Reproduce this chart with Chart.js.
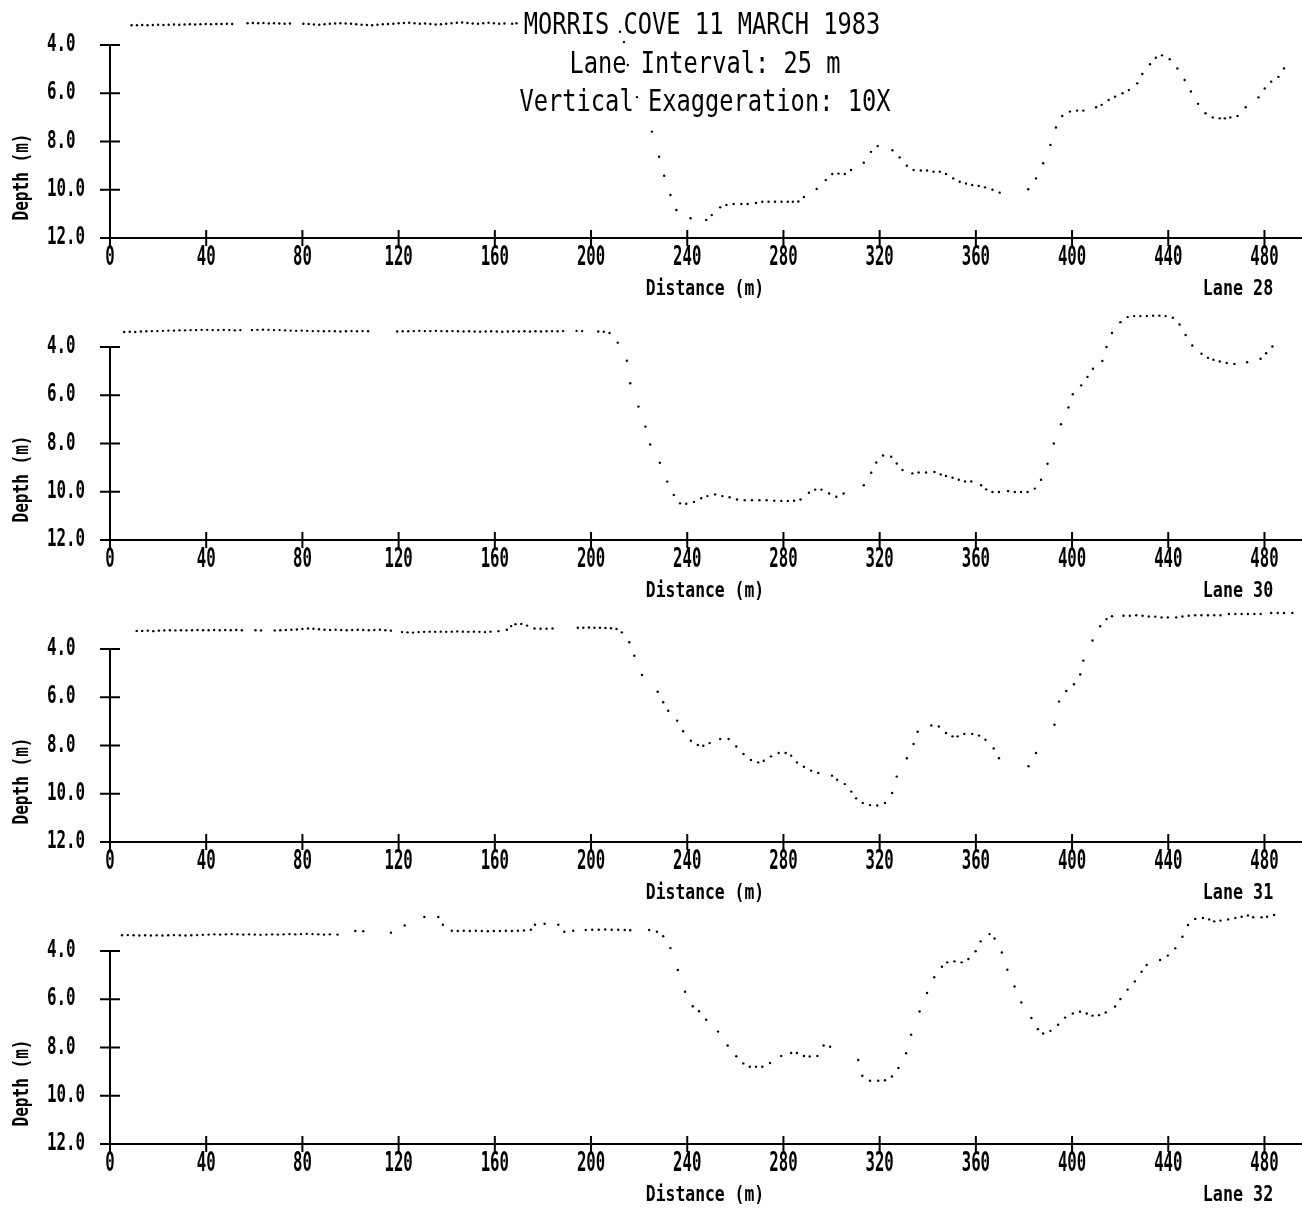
<!DOCTYPE html>
<html>
<head>
<meta charset="utf-8">
<title>Morris Cove 11 March 1983</title>
<script src="https://cdn.jsdelivr.net/npm/chart.js@4.4.1/dist/chart.umd.min.js"></script>
<style>
  html, body { margin: 0; background: #fff; }
  #page { position: relative; width: 1302px; height: 1208px; overflow: hidden; }
  #page canvas { position: absolute; left: 0; }
</style>
</head>
<body>
<div id="page"></div>
<script>
const titleLines = ['MORRIS COVE 11 MARCH 1983', 'Lane Interval: 25 m', 'Vertical Exaggeration: 10X'];
const laneNames = ['Lane 28', 'Lane 30', 'Lane 31', 'Lane 32'];
const distanceTicks = [0, 40, 80, 120, 160, 200, 240, 280, 320, 360, 400, 440, 480];
const depthTicks = [4, 6, 8, 10, 12];

const lane28Dist = [
  9.0, 11.2, 13.4, 15.6, 17.8, 20.0, 22.2, 24.4, 26.6, 28.8, 31.0, 33.2, 35.4, 37.6, 39.8, 42.0, 44.2, 46.4, 48.6, 50.8,
  57.2, 59.4, 61.6, 63.8, 66.0, 68.2, 70.4, 72.6, 74.8,
  80.4, 82.6, 84.8, 87.0, 89.2, 91.4, 93.6, 95.8, 98.0, 100.2, 102.4, 104.6, 106.8, 109.0, 111.2, 113.4, 115.6, 117.8,
  120.0, 122.2, 124.4, 126.6, 128.8, 131.0, 133.2, 135.4, 137.6, 139.8, 142.0, 144.2, 146.4, 148.6, 150.8, 153.0,
  155.2, 157.4, 159.6, 161.8, 164.0, 167.2, 169.0,
  212.0, 213.7, 215.3, 219.1, 225.3, 228.3, 230.4, 233.0, 235.5, 241.4, 247.9, 250.2, 253.7, 256.3, 259.3, 262.5,
  265.1, 268.6, 271.2, 273.8, 276.5, 279.2, 281.8, 283.9, 286.2, 288.5, 293.8, 297.6, 300.3, 302.9, 305.5, 308.1,
  313.4, 316.4, 319.2, 325.3, 328.3, 331.3, 334.1, 337.1, 339.7, 342.4, 345.0, 347.6, 350.6, 353.3, 355.9, 358.5,
  361.2, 363.8, 366.9, 369.9, 381.8, 385.0, 388.0, 391.0, 393.3, 395.9, 399.1, 402.1, 404.7, 410.0, 412.3, 415.2,
  417.9, 421.0, 423.6, 427.1, 429.2, 432.4, 434.8, 437.4, 440.6, 443.8, 446.8, 449.4, 452.4, 455.5, 458.5, 461.4,
  463.5, 465.8, 468.8, 472.2, 477.5, 480.1, 482.8, 485.8, 488.1,
];
const lane28Depth = [
  3.18, 3.18, 3.17, 3.18, 3.17, 3.16, 3.17, 3.16, 3.15, 3.16, 3.15, 3.14, 3.15, 3.14, 3.13, 3.14, 3.13, 3.13, 3.12, 3.13,
  3.10, 3.09, 3.10, 3.09, 3.11, 3.10, 3.11, 3.12, 3.11,
  3.12, 3.13, 3.15, 3.16, 3.14, 3.12, 3.11, 3.10, 3.11, 3.12, 3.14, 3.16, 3.17, 3.18, 3.16, 3.14, 3.13, 3.12,
  3.10, 3.09, 3.08, 3.10, 3.12, 3.11, 3.13, 3.15, 3.14, 3.12, 3.10, 3.08, 3.07, 3.09, 3.11, 3.12,
  3.10, 3.08, 3.10, 3.12, 3.11, 3.12, 3.10,
  3.45, 3.88, 4.83, 6.16, 7.59, 8.63, 9.42, 10.22, 10.84, 11.18, 11.25, 11.05, 10.73, 10.63, 10.59, 10.59,
  10.59, 10.55, 10.50, 10.50, 10.50, 10.50, 10.50, 10.50, 10.49, 10.30, 9.97, 9.60, 9.35, 9.33, 9.35, 9.18,
  8.88, 8.43, 8.19, 8.36, 8.66, 9.00, 9.18, 9.20, 9.20, 9.25, 9.25, 9.35, 9.53, 9.67, 9.74, 9.80,
  9.84, 9.90, 10.00, 10.12, 9.98, 9.53, 8.90, 8.14, 7.42, 6.94, 6.76, 6.72, 6.72, 6.58, 6.48, 6.28,
  6.14, 6.00, 5.87, 5.59, 5.20, 4.80, 4.53, 4.43, 4.59, 4.97, 5.45, 5.93, 6.44, 6.83, 7.00, 7.04,
  7.04, 7.00, 6.94, 6.58, 6.17, 5.80, 5.52, 5.32, 4.97,
];

const lane30Dist = [
  5.9, 8.2, 10.5, 12.8, 15.1, 17.4, 19.7, 22.0, 24.3, 26.6, 28.9, 31.2, 33.5, 35.8, 38.1, 40.4, 42.7, 45.0, 47.3, 49.6,
  51.9, 54.2, 59.0, 61.3, 63.6, 65.9, 68.2, 70.5, 72.8, 75.1, 77.4, 79.7, 82.0, 84.3, 86.6, 88.9, 91.2, 93.5, 95.8,
  98.1, 100.4, 102.7, 105.0, 107.3, 119.4, 121.7, 124.0, 126.3, 128.6, 130.9, 133.2, 135.5, 137.8, 140.1, 142.4,
  144.7, 147.0, 149.3, 151.6, 153.9, 156.2, 158.5, 160.8, 163.1, 165.4, 167.7, 170.0, 172.3, 174.6, 176.9, 179.2,
  181.5, 183.8, 186.1, 188.4, 194.0, 196.3, 203.0, 205.3, 207.7,
  211.1, 214.9, 216.3, 219.7, 222.6, 224.6, 228.6, 231.7, 234.4, 237.0, 239.6, 242.8, 245.8, 248.4, 251.6, 254.6,
  257.6, 260.7, 263.9, 266.9, 270.0, 273.0, 276.2, 279.1, 281.8, 284.4, 287.1, 290.6, 293.2, 295.8, 299.0, 302.0,
  305.0, 313.4, 316.5, 318.6, 321.4, 324.8, 327.1, 329.5, 333.6, 336.2, 339.3, 342.8, 345.4, 347.6, 350.3, 352.9,
  355.5, 358.1, 362.2, 364.3, 366.9, 369.6, 373.4, 376.2, 378.8, 381.5, 384.5, 387.1, 389.8, 392.4, 395.4, 398.5,
  400.3, 403.8, 406.4, 408.7, 412.6, 414.3, 416.6, 420.1, 423.1, 425.8, 428.4, 431.1, 433.7, 436.3, 438.9, 441.9,
  444.7, 447.2, 450.0, 453.8, 456.5, 458.8, 461.4, 464.3, 467.5, 472.8, 478.4, 480.7, 483.3,
];
const lane30Depth = [
  3.38, 3.37, 3.38, 3.36, 3.35, 3.34, 3.34, 3.33, 3.32, 3.32, 3.31, 3.31, 3.30, 3.30, 3.29, 3.29, 3.30, 3.30, 3.29, 3.30,
  3.31, 3.30, 3.30, 3.29, 3.28, 3.29, 3.30, 3.30, 3.31, 3.32, 3.33, 3.32, 3.33, 3.34, 3.34, 3.35, 3.34, 3.35, 3.36,
  3.35, 3.34, 3.35, 3.34, 3.35, 3.36, 3.35, 3.35, 3.34, 3.33, 3.34, 3.34, 3.33, 3.34, 3.35, 3.34,
  3.35, 3.36, 3.35, 3.36, 3.37, 3.36, 3.35, 3.36, 3.37, 3.36, 3.35, 3.36, 3.35, 3.36, 3.35, 3.36,
  3.35, 3.34, 3.35, 3.34, 3.33, 3.34, 3.36, 3.37, 3.42,
  3.82, 4.57, 5.50, 6.47, 7.30, 8.04, 8.80, 9.58, 10.13, 10.48, 10.50, 10.42, 10.27, 10.18, 10.11, 10.18,
  10.23, 10.32, 10.35, 10.35, 10.35, 10.35, 10.37, 10.38, 10.38, 10.37, 10.32, 10.04, 9.91, 9.91, 10.07, 10.21,
  10.07, 9.73, 9.21, 8.79, 8.50, 8.55, 8.83, 9.10, 9.24, 9.20, 9.20, 9.18, 9.28, 9.35, 9.42, 9.50,
  9.57, 9.57, 9.73, 9.90, 10.01, 10.01, 9.97, 10.01, 10.01, 10.01, 9.87, 9.50, 8.84, 8.00, 7.20, 6.51,
  5.96, 5.59, 5.24, 4.90, 4.58, 4.00, 3.42, 2.97, 2.76, 2.72, 2.72, 2.72, 2.70, 2.70, 2.72, 2.79,
  3.07, 3.50, 3.94, 4.28, 4.45, 4.53, 4.60, 4.66, 4.70, 4.63, 4.49, 4.26, 3.98,
];

const lane31Dist = [
  11.1, 13.4, 15.7, 18.0, 20.3, 22.6, 24.9, 27.2, 29.5, 31.8, 34.1, 36.4, 38.7, 41.0, 43.3, 45.6, 47.9, 50.2, 52.5,
  54.8, 60.5, 62.8, 68.5, 70.8, 73.1, 75.4, 77.7, 80.0, 82.3, 84.6, 86.9, 89.2, 91.5, 93.8, 96.1, 98.4, 100.7,
  103.0, 105.3, 107.6, 109.9, 112.2, 114.5, 116.8, 121.4, 123.7, 126.0, 128.3, 130.6, 132.9, 135.2, 137.5, 139.8,
  142.1, 144.4, 146.7, 149.0, 151.3, 153.6, 155.9, 158.2, 161.5, 165.0, 166.8, 168.6, 171.0, 173.4, 176.5, 179.0,
  181.5, 184.0, 194.5, 196.8, 199.1, 201.4, 203.7, 206.0, 208.3, 210.6,
  212.8, 215.9, 218.0, 221.2, 227.7, 230.0, 232.1, 235.8, 238.3, 241.5, 244.4, 246.7, 249.3, 253.7, 257.2, 260.4,
  263.4, 266.5, 269.5, 271.8, 274.8, 278.0, 280.9, 283.2, 285.6, 288.5, 291.5, 294.5, 300.2, 302.3, 305.5, 308.2,
  310.2, 313.0, 316.0, 319.0, 322.2, 325.2, 327.1, 331.3, 334.1, 335.8, 341.5, 344.6, 347.6, 350.3, 352.4, 355.2,
  358.5, 361.3, 364.0, 367.4, 369.6, 381.9, 385.0, 392.7, 394.6, 397.6, 400.8, 403.4, 404.7, 408.5, 411.7, 414.3,
  416.6, 421.4, 424.0, 426.7, 429.3, 431.9, 434.6, 437.2, 439.8, 443.3, 445.9, 448.5, 451.2, 453.8, 456.5, 459.1,
  461.7, 465.2, 467.9, 470.5, 473.1, 475.8, 478.4, 482.8, 485.5, 488.1, 491.6,
];
const lane31Depth = [
  3.25, 3.25, 3.24, 3.26, 3.24, 3.23, 3.22, 3.23, 3.22, 3.23, 3.22, 3.21, 3.22, 3.22, 3.21, 3.22, 3.21, 3.22, 3.21,
  3.22, 3.22, 3.23, 3.23, 3.22, 3.21, 3.20, 3.19, 3.17, 3.15, 3.16, 3.18, 3.20, 3.21, 3.20, 3.21, 3.22, 3.21,
  3.20, 3.21, 3.22, 3.21, 3.20, 3.22, 3.24, 3.30, 3.31, 3.32, 3.30, 3.29, 3.28, 3.29, 3.28, 3.29,
  3.28, 3.27, 3.28, 3.29, 3.28, 3.29, 3.30, 3.28, 3.26, 3.20, 3.05, 2.97, 2.96, 3.03, 3.15, 3.16,
  3.16, 3.15, 3.12, 3.12, 3.11, 3.12, 3.12, 3.13, 3.14, 3.17,
  3.31, 3.72, 4.28, 5.08, 5.77, 6.21, 6.56, 6.97, 7.41, 7.80, 7.98, 8.01, 7.90, 7.73, 7.73, 8.04,
  8.35, 8.60, 8.70, 8.63, 8.45, 8.31, 8.31, 8.42, 8.70, 8.88, 9.04, 9.14, 9.25, 9.42, 9.60, 9.91,
  10.19, 10.38, 10.47, 10.49, 10.38, 9.97, 9.29, 8.53, 7.94, 7.43, 7.17, 7.21, 7.48, 7.62, 7.62, 7.52,
  7.52, 7.59, 7.76, 8.12, 8.53, 8.86, 8.31, 7.14, 6.18, 5.74, 5.46, 5.06, 4.48, 3.65, 3.06, 2.76,
  2.64, 2.62, 2.62, 2.60, 2.62, 2.65, 2.66, 2.69, 2.69, 2.69, 2.65, 2.62, 2.60, 2.60, 2.60, 2.60,
  2.60, 2.55, 2.55, 2.55, 2.55, 2.55, 2.55, 2.51, 2.51, 2.51, 2.51,
];

const lane32Dist = [
  5.0, 7.4, 9.8, 12.2, 14.6, 17.0, 19.4, 21.8, 24.2, 26.6, 29.0, 31.4, 33.8, 36.2, 38.6, 41.0, 43.4, 45.8, 48.2,
  50.6, 53.0, 55.4, 57.8, 60.2, 62.6, 65.0, 67.4, 69.8, 72.2, 74.6, 77.0, 79.4, 81.8, 84.2, 86.6, 89.0, 91.4, 94.6,
  102.0, 105.3, 116.8, 122.5, 130.7, 136.5, 138.4, 142.1, 144.6, 147.1, 149.6, 152.1, 154.6, 157.1, 159.6, 162.1,
  164.6, 167.1, 169.6, 172.1, 175.0, 176.7, 180.7, 186.4, 188.9, 192.6, 197.8, 200.5, 203.2, 205.9, 208.6, 211.3,
  214.0, 216.3, 224.2, 227.4, 230.0, 233.0, 236.1, 239.1, 242.3, 244.9, 247.9, 252.8, 256.8, 260.4, 263.3, 266.0,
  268.6, 271.2, 274.4, 279.1, 283.2, 285.6, 288.5, 290.9, 294.1, 296.7, 299.4, 311.1, 312.8, 316.0, 319.4, 322.2,
  325.1, 327.8, 331.0, 333.1, 336.6, 339.7, 342.7, 345.9, 348.1, 351.1, 354.1, 356.9, 359.9, 362.0, 365.7, 367.8,
  370.8, 373.1, 376.1, 378.9, 383.1, 385.8, 388.0, 391.0, 394.2, 397.1, 400.3, 403.3, 406.1, 408.5, 411.2, 414.0,
  417.9, 420.1, 423.1, 426.1, 428.9, 431.0, 436.6, 439.8, 442.9, 445.9, 448.2, 451.2, 454.4, 457.0, 459.1, 461.7,
  464.9, 467.9, 470.5, 473.1, 475.3, 478.8, 481.1, 484.0,
];
const lane32Depth = [
  3.35, 3.34, 3.35, 3.36, 3.35, 3.36, 3.35, 3.36, 3.35, 3.34, 3.35, 3.36, 3.35, 3.34, 3.33, 3.32, 3.31, 3.32, 3.31,
  3.30, 3.31, 3.32, 3.31, 3.32, 3.33, 3.32, 3.31, 3.32, 3.31, 3.30, 3.31, 3.30, 3.29, 3.30, 3.31, 3.32, 3.31, 3.32,
  3.17, 3.18, 3.24, 2.94, 2.59, 2.59, 2.91, 3.16, 3.17, 3.16, 3.17, 3.16, 3.17, 3.18, 3.17, 3.17,
  3.16, 3.17, 3.16, 3.15, 3.12, 2.91, 2.87, 2.91, 3.20, 3.16, 3.13, 3.12, 3.12, 3.11, 3.12, 3.12,
  3.13, 3.14, 3.13, 3.20, 3.39, 3.88, 4.79, 5.69, 6.29, 6.50, 6.85, 7.34, 7.92, 8.36, 8.66, 8.80,
  8.80, 8.80, 8.64, 8.35, 8.23, 8.23, 8.35, 8.37, 8.35, 7.92, 7.97, 8.52, 9.17, 9.38, 9.38, 9.36,
  9.20, 8.85, 8.24, 7.47, 6.51, 5.74, 5.09, 4.65, 4.47, 4.43, 4.47, 4.33, 4.01, 3.60, 3.30, 3.48,
  4.06, 4.78, 5.47, 6.13, 6.78, 7.24, 7.42, 7.31, 7.06, 6.76, 6.59, 6.52, 6.59, 6.68, 6.66, 6.55,
  6.30, 5.99, 5.60, 5.26, 4.86, 4.58, 4.37, 4.19, 3.89, 3.41, 2.92, 2.67, 2.63, 2.69, 2.77, 2.74,
  2.69, 2.63, 2.58, 2.53, 2.60, 2.60, 2.58, 2.51,
];

const laneDists = [lane28Dist, lane30Dist, lane31Dist, lane32Dist];
const laneDepths = [lane28Depth, lane30Depth, lane31Depth, lane32Depth];

const panelWidth = 1302;
const panelHeight = 302;
// the depth axis is only drawn from 4.0 down, but the plot area reaches up to 2.2 m
const depthTop = 2.2;
const pxPerMetre = 24.125;
const plotterFont = '"DejaVu Sans Mono", "Liberation Mono", monospace';

function drawText(ctx, text, x, y, size, squeeze, weight, align, angle) {
  ctx.save();
  ctx.translate(x, y);
  if (angle) ctx.rotate(angle);
  ctx.scale(squeeze, 1);
  ctx.font = `${weight} ${size}px ${plotterFont}`;
  ctx.textAlign = align;
  ctx.textBaseline = 'middle';
  ctx.fillText(text, 0, 0);
  ctx.restore();
}

const profileFrame = {
  id: 'profileFrame',
  afterDatasetsDraw(chart, args, opts) {
    const { ctx, chartArea } = chart;
    const xScale = chart.scales.x;
    const yScale = chart.scales.y;
    const left = chartArea.left;
    const bottom = chartArea.bottom;

    ctx.save();
    ctx.strokeStyle = '#000';
    ctx.fillStyle = '#000';
    ctx.lineWidth = 2;
    ctx.beginPath();
    ctx.moveTo(left, yScale.getPixelForValue(depthTicks[0]));
    ctx.lineTo(left, bottom);
    ctx.lineTo(chartArea.right, bottom);
    depthTicks.forEach((v) => {
      const py = yScale.getPixelForValue(v);
      ctx.moveTo(left - 10, py);
      ctx.lineTo(left + 10, py);
    });
    distanceTicks.forEach((v) => {
      const px = xScale.getPixelForValue(v);
      ctx.moveTo(px, bottom - 8);
      ctx.lineTo(px, bottom + 8);
    });
    ctx.stroke();

    depthTicks.forEach((v) => {
      drawText(ctx, v.toFixed(1), 47, yScale.getPixelForValue(v), 24, 0.66, 'bold', 'left');
    });
    distanceTicks.forEach((v) => {
      drawText(ctx, String(v), xScale.getPixelForValue(v), bottom + 20, 27, 0.58, 'bold', 'center');
    });

    drawText(ctx, 'Depth (m)', 22, 177, 22, 0.73, 'bold', 'center', -Math.PI / 2);
    drawText(ctx, 'Distance (m)', 705, 290, 21, 0.78, 'bold', 'center');
    drawText(ctx, opts.lane, 1238, 289, 22, 0.76, 'bold', 'center');

    if (opts.title) {
      drawText(ctx, titleLines[0], 702, 26, 30, 0.79, 'normal', 'center');
      drawText(ctx, titleLines[1], 705, 65, 30, 0.79, 'normal', 'center');
      drawText(ctx, titleLines[2], 705, 103, 30, 0.79, 'normal', 'center');
    }
    ctx.restore();
  },
};

const page = document.getElementById('page');

laneNames.forEach((laneName, i) => {
  const canvas = document.createElement('canvas');
  canvas.width = panelWidth;
  canvas.height = panelHeight;
  canvas.style.width = `${panelWidth}px`;
  canvas.style.height = `${panelHeight}px`;
  canvas.style.top = `${i * panelHeight}px`;
  page.appendChild(canvas);

  const points = laneDists[i].map((d, j) => ({ x: d, y: laneDepths[i][j] }));

  // eslint-disable-next-line no-undef,no-new
  new Chart(canvas.getContext('2d'), {
    type: 'scatter',
    data: {
      datasets: [{
        label: laneName,
        data: points,
        showLine: false,
        pointRadius: 1.2,
        pointBorderWidth: 0,
        pointBackgroundColor: '#000',
      }],
    },
    options: {
      responsive: false,
      animation: false,
      devicePixelRatio: 1,
      events: [],
      layout: {
        autoPadding: false,
        padding: { left: 110, right: 0, top: 45 - (4 - depthTop) * pxPerMetre, bottom: 64 },
      },
      scales: {
        x: { type: 'linear', min: 0, max: 495.6, display: false },
        y: { type: 'linear', min: depthTop, max: 12, reverse: true, display: false },
      },
      plugins: {
        legend: { display: false },
        tooltip: { enabled: false },
        profileFrame: { lane: laneName, title: i === 0 },
      },
    },
    plugins: [profileFrame],
  });
});
</script>
</body>
</html>
